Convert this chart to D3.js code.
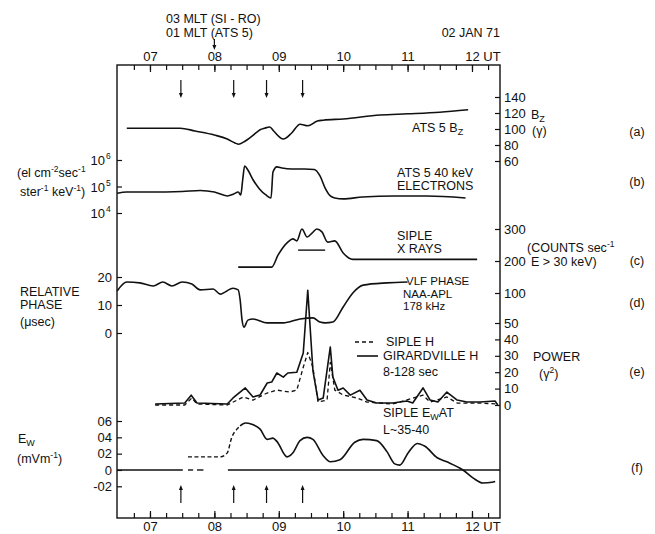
<!DOCTYPE html>
<html>
<head>
<meta charset="utf-8">
<script src="https://cdn.jsdelivr.net/npm/d3@7"></script>
<style>
body { margin: 0; background: #fff; }
svg text { font-family: "Liberation Sans", Arial, sans-serif; fill: #111; }
</style>
</head>
<body>
<svg id="chart" width="655" height="534"></svg>
<script>
// time axis (UT hours)
var hourTicks = [7, 8, 9, 10, 11, 12];
var hourLabels = ["07", "08", "09", "10", "11", "12"];
var arrowHours = [7.48, 8.30, 8.81, 9.37];

// (a) ATS 5 Bz, gamma
var bzTicks = [60, 80, 100, 120, 140];
var bzData = [[6.64,101],[7.0,101],[7.47,101],[7.7,97.5],[8.0,92.5],[8.2,87.5],[8.32,82.5],[8.38,81],
  [8.48,85],[8.55,89],[8.66,96],[8.71,99],[8.78,101],[8.86,102.5],[8.92,97.5],[9.07,87.5],[9.2,95],
  [9.33,106],[9.45,104],[9.6,110],[9.69,111],[10.0,112.5],[10.57,117.5],[11.0,119],[11.5,121],[11.94,124]];

// (b) ATS 5 40 keV electrons, flux
var fluxTicks = [1e4, 1e5, 1e6];
var fluxExp = ["4", "5", "6"];
var elecData = [[6.49,5.6e4],[6.64,6.2e4],[7.0,6.2e4],[7.5,6.5e4],[7.78,7.1e4],[8.0,6.2e4],[8.2,4.4e4],
  [8.3,5.2e4],[8.37,6.2e4],[8.41,4.8e4],[8.44,1.8e5],[8.47,5.9e5],[8.52,4.2e5],[8.6,1.8e5],[8.7,8.1e4],
  [8.8,4.8e4],[8.88,3.7e4],[8.91,3.5e5],[8.97,5.5e5],[9.05,5.0e5],[9.2,4.6e5],[9.4,4.6e5],[9.55,4.4e5],
  [9.64,2.5e5],[9.72,8.7e4],[9.8,4.4e4],[9.87,3.7e4],[10.0,3.4e4],[10.3,4.0e4],[10.8,4.4e4],[11.3,4.4e4],[11.9,3.7e4]];

// (c) Siple X rays, counts/sec
var countTicks = [100, 200, 300];
var xrayData = [[8.37,181],[8.89,181],[8.99,219],[9.14,259],[9.22,269],[9.28,263],[9.36,300],[9.44,275],
  [9.52,288],[9.59,300],[9.67,291],[9.76,259],[9.87,263],[10.0,225],[10.15,205],[12.08,205]];
var xrayBar = [[9.30,234],[9.72,234]];

// (d) VLF phase, microsec
var phaseTicks = [0, 10, 20];
var phaseData = [[6.49,15],[6.64,18.2],[6.84,17.9],[7.05,16.8],[7.2,18.2],[7.34,16.8],[7.5,18.2],[7.65,17.5],
  [7.78,15.4],[7.98,15.7],[8.09,13.9],[8.29,16],[8.37,15.4],[8.40,11.8],[8.43,4.6],[8.46,2.1],[8.52,4.6],
  [8.6,5],[8.82,3.6],[9.07,3.6],[9.33,5],[9.53,5.4],[9.64,3.9],[9.72,3.6],[9.84,3.9],[10.0,9.3],
  [10.15,14.3],[10.31,17.1],[10.68,17.9],[11.0,18.2]];

// (e) power 8-128 sec, gamma^2
var powerTicks = [0, 10, 20, 30, 40, 50];
var girardData = [[7.08,0.6],[7.54,1.2],[7.64,6],[7.73,1.2],[8.2,0.6],[8.29,4.3],[8.48,10.4],[8.6,4.9],
  [8.71,6.1],[8.82,13.4],[8.89,14],[8.97,19.5],[9.07,17],[9.14,19.5],[9.28,20],[9.38,31.7],[9.45,70],
  [9.53,21],[9.61,3],[9.69,4.3],[9.8,35.4],[9.84,17],[9.92,9],[10.0,10.4],[10.11,6],[10.26,9],[10.37,3],
  [10.52,1.2],[10.77,1.2],[10.99,2.4],[11.08,1.2],[11.24,10.4],[11.35,3],[11.47,1.8],[11.61,7.9],
  [11.77,3],[11.92,1.8],[12.12,1.8],[12.36,2.4],[12.40,0]];
var sipleData = [[7.08,0],[7.54,0],[7.65,4.3],[7.73,0.6],[8.2,0],[8.45,4.9],[8.6,3],[8.82,7.3],[8.97,9.1],
  [9.17,7.9],[9.28,9.1],[9.38,23],[9.45,32],[9.53,23],[9.61,1.8],[9.75,3],[9.8,26],[9.87,9.1],[10.0,6.1],
  [10.21,4.3],[10.37,1.8],[10.77,0.6],[11.24,6],[11.35,1.8],[11.61,4.9],[11.77,1.2],[12.12,1.2],[12.40,0.6]];

// (f) Siple Ew, mV/m
var ewTicks = [-0.2, 0, 0.2, 0.4, 0.6];
var ewLabels = ["-02", "0", "02", "04", "06"];
var ewDashed = [[7.59,0.16],[8.09,0.16],[8.2,0.21],[8.27,0.4],[8.35,0.5],[8.40,0.54]];
var ewSolid = [[8.40,0.54],[8.48,0.575],[8.58,0.56],[8.71,0.5],[8.82,0.375],[8.91,0.39],[8.97,0.35],
  [9.13,0.16],[9.22,0.21],[9.33,0.36],[9.44,0.4],[9.53,0.375],[9.69,0.175],[9.80,0.1],[9.95,0.125],
  [10.18,0.34],[10.31,0.375],[10.52,0.36],[10.68,0.225],[10.80,0.075],[10.88,0.06],[11.01,0.21],
  [11.15,0.325],[11.27,0.29],[11.46,0.15],[11.61,0.1],[11.86,0],[12.02,-0.1],[12.17,-0.16],[12.31,-0.15],[12.36,-0.14]];
var zeroSegments = [[6.488,7.51],[7.59,7.67],[7.73,7.83],[8.21,12.435]];

var svg = d3.select("#chart");
var frame = { left: 117, right: 500, top: 65, bottom: 518 };
var ink = "#111";
var fs = 12.5;

var x = d3.scaleLinear().domain([6.488, 12.435]).range([frame.left, frame.right]);
var yA = d3.scaleLinear().domain([60, 140]).range([161, 97]);
var yB = d3.scaleLog().domain([1e4, 1e6]).range([213, 160]);
var yC = d3.scaleLinear().domain([100, 300]).range([293, 229]);
var yD = d3.scaleLinear().domain([0, 20]).range([333, 277]);
var yE = d3.scaleLinear().domain([0, 50]).range([405, 323]);
var yF = d3.scaleLinear().domain([-0.2, 0.6]).range([486.3, 421]);

function text(px, py, str, opts){
    opts = opts || {};
    return svg.append("text")
        .attr("x", px).attr("y", py)
        .attr("font-size", opts.size || fs)
        .attr("text-anchor", opts.anchor || "start")
        .text(str);
}

function sub(t, s){
    t.append("tspan").attr("dy", 3).attr("font-size", 9).text(s);
    return t;
}

function sup(t, s){
    t.append("tspan").attr("dy", -5).attr("font-size", 8.5).text(s);
    return t;
}

function drawLine(data, y, opts){
    opts = opts || {};
    svg.append("path")
        .datum(data)
        .attr("d", d3.line()
            .x(d => x(d[0]))
            .y(d => y(d[1]))
            .curve(opts.curve || d3.curveMonotoneX))
        .attr("fill", "none")
        .attr("stroke", ink)
        .attr("stroke-width", opts.width || 1.6)
        .attr("stroke-linejoin", "round")
        .attr("stroke-dasharray", opts.dash || null);
}

function arrow(hx, y1, y2){
    var px = x(hx), dir = y2 > y1 ? 1 : -1;
    svg.append("line")
        .attr("x1", px).attr("x2", px).attr("y1", y1).attr("y2", y2 - dir * 3)
        .attr("stroke", ink).attr("stroke-width", 1.2);
    svg.append("path")
        .attr("d", `M${px - 2},${y2 - dir * 5}L${px + 2},${y2 - dir * 5}L${px},${y2}Z`)
        .attr("fill", ink);
}

function styleAxis(g){
    g.select(".domain").remove();
    g.attr("color", ink).attr("font-size", 13);
    g.selectAll("line").attr("stroke-width", 1.2);
}

// frame
svg.append("rect")
    .attr("x", frame.left).attr("y", frame.top)
    .attr("width", frame.right - frame.left).attr("height", frame.bottom - frame.top)
    .attr("fill", "none").attr("stroke", ink).attr("stroke-width", 1.4);

// time axes
var quarterTicks = d3.range(27, 50).map(i => i / 4);
svg.append("g").attr("transform", `translate(0,${frame.top})`)
    .call(d3.axisTop(x).tickValues(quarterTicks).tickSize(-5).tickFormat(""))
    .call(styleAxis);
svg.append("g").attr("transform", `translate(0,${frame.top})`)
    .call(d3.axisTop(x).tickValues(hourTicks).tickSize(-7).tickPadding(4)
        .tickFormat((d, i) => hourLabels[i]))
    .call(styleAxis);
svg.append("g").attr("transform", `translate(0,${frame.bottom})`)
    .call(d3.axisBottom(x).tickValues(quarterTicks).tickSize(-5).tickFormat(""))
    .call(styleAxis);
svg.append("g").attr("transform", `translate(0,${frame.bottom})`)
    .call(d3.axisBottom(x).tickValues(hourTicks).tickSize(-7).tickPadding(4)
        .tickFormat((d, i) => hourLabels[i]))
    .call(styleAxis);
text(492, 61, "UT", { anchor: "middle", size: 13 });
text(492, 531, "UT", { anchor: "middle", size: 13 });

// header
text(166, 23, "03 MLT (SI - RO)");
text(166, 37, "01 MLT (ATS 5)");
text(500, 37, "02 JAN 71", { anchor: "end" });
arrow(8, 39, 50);

// event arrows
arrowHours.forEach(h => {
    arrow(h, 80, 98);
    arrow(h, 503, 485);
});

// right axes
[[yA, bzTicks], [yC, countTicks], [yE, powerTicks]].forEach(function(a){
    svg.append("g").attr("transform", `translate(${frame.right},0)`)
        .call(d3.axisRight(a[0]).tickValues(a[1]).tickSize(-5).tickPadding(4).tickFormat(d3.format("d")))
        .call(styleAxis);
});

// left axes
svg.append("g").attr("transform", `translate(${frame.left},0)`)
    .call(d3.axisLeft(yD).tickValues(phaseTicks).tickSize(-5).tickPadding(5).tickFormat(d3.format("d")))
    .call(styleAxis);
svg.append("g").attr("transform", `translate(${frame.left},0)`)
    .call(d3.axisLeft(yF).tickValues(ewTicks).tickSize(-5).tickPadding(5)
        .tickFormat((d, i) => ewLabels[i]))
    .call(styleAxis);
svg.append("g").attr("transform", `translate(${frame.left},0)`)
    .call(d3.axisLeft(yB).tickValues(fluxTicks).tickSize(-5).tickFormat(""))
    .call(styleAxis);
fluxTicks.forEach(function(t, i){
    text(frame.left - 12, yB(t) + 5, "10", { anchor: "end", size: 13 });
    svg.append("text").attr("x", frame.left - 11).attr("y", yB(t) - 1)
        .attr("font-size", 8.5).text(fluxExp[i]);
});

// curves
drawLine(bzData, yA);
drawLine(elecData, yB);
drawLine(xrayData, yC);
drawLine(xrayBar, yC, { curve: d3.curveLinear, width: 1.4 });
drawLine(phaseData, yD);
drawLine(sipleData, yE, { curve: d3.curveLinear, dash: "4,3", width: 1.3 });
drawLine(girardData, yE, { curve: d3.curveLinear, width: 1.6 });
drawLine(ewDashed, yF, { dash: "4,2.5", width: 1.4 });
drawLine(ewSolid, yF);
zeroSegments.forEach(function(s){
    drawLine([[s[0], 0], [s[1], 0]], yF, { curve: d3.curveLinear, width: 1.4 });
});

// panel labels inside
sub(text(412, 132, "ATS 5 B"), "Z");
text(397, 177, "ATS 5 40 keV");
text(397, 190, "ELECTRONS");
text(397, 240, "SIPLE");
text(397, 253, "X RAYS");
text(406, 285, "VLF PHASE", { size: 11.5 });
text(403, 297.5, "NAA-APL", { size: 11.5 });
text(403, 310, "178 kHz", { size: 11.5 });
text(386, 346, "SIPLE  H");
text(383, 360, "GIRARDVILLE H");
text(383, 376, "8-128 sec");
svg.append("line").attr("x1", 355).attr("x2", 376).attr("y1", 342).attr("y2", 342)
    .attr("stroke", ink).attr("stroke-width", 1.3).attr("stroke-dasharray", "4,3");
svg.append("line").attr("x1", 357).attr("x2", 378).attr("y1", 356).attr("y2", 356)
    .attr("stroke", ink).attr("stroke-width", 1.6);
var t = sub(text(383, 417, "SIPLE E"), "W");
t.append("tspan").attr("dy", -3).text("AT");
text(383, 434, "L~35-40");

// right side labels
sub(text(531, 119, "B"), "Z");
text(532, 135, "(\u03b3)");
sup(text(527, 252, "(COUNTS sec"), "-1");
text(531, 266, "E > 30 keV)");
text(533, 361, "POWER");
t = sup(text(539, 378, "(\u03b3"), "2");
t.append("tspan").attr("dy", 5).text(")");
["(a)", "(b)", "(c)", "(d)", "(e)", "(f)"].forEach(function(s, i){
    var ys = [136, 186, 265, 307, 376, 472];
    text(637, ys[i], s, { anchor: "middle" });
});

// left side labels
t = sup(text(17, 177, "(el  cm"), "-2");
t.append("tspan").attr("dy", 5).text("sec");
sup(t, "-1");
t = sup(text(20, 196, "ster"), "-1");
t.append("tspan").attr("dy", 5).text(" keV");
sup(t, "-1");
t.append("tspan").attr("dy", 5).text(")");
text(20, 296, "RELATIVE");
text(20, 309, "PHASE");
text(20, 326, "(\u03bcsec)");
sub(text(18, 443, "E"), "W");
t = sup(text(17, 463, "(mVm"), "-1");
t.append("tspan").attr("dy", 5).text(")");
</script>
</body>
</html>
